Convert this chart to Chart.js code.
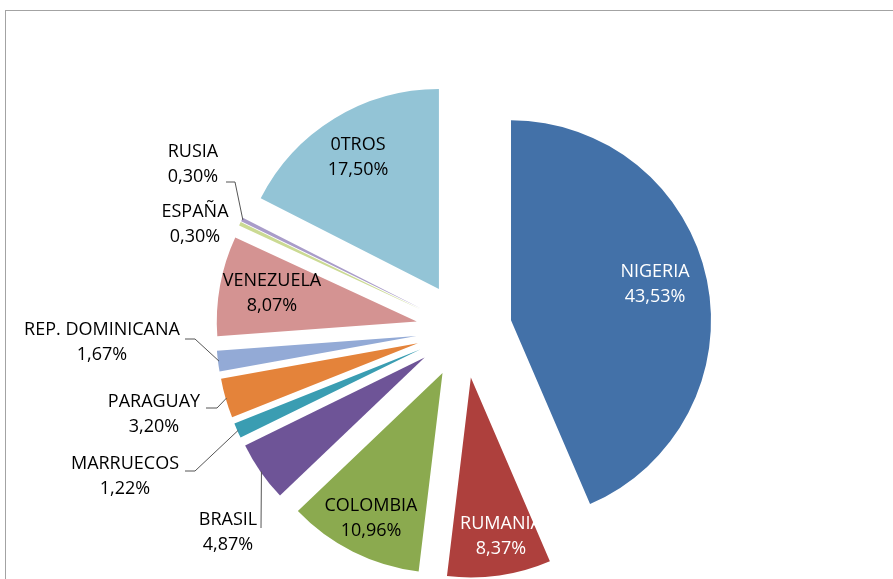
<!DOCTYPE html>
<html>
<head>
<meta charset="utf-8">
<script src="https://cdn.jsdelivr.net/npm/chart.js@4.4.0/dist/chart.umd.min.js"></script>
<style>
  html, body { margin: 0; padding: 0; background: #fff; overflow: hidden; }
  #frame { position: absolute; left: 5px; top: 10px; width: 1000px; height: 1000px; border: 1px solid #a3a3a3; }
  #pieChart { position: absolute; left: 0; top: 0; }
</style>
</head>
<body>
<div id="frame"></div>
<canvas id="pieChart" width="893" height="579"></canvas>
<script>
// Data
const countries = ['NIGERIA', 'RUMANIA', 'COLOMBIA', 'BRASIL', 'MARRUECOS', 'PARAGUAY',
    'REP. DOMINICANA', 'VENEZUELA', 'ESPAÑA', 'RUSIA', '0TROS'];
const shares = [43.53, 8.37, 10.96, 4.87, 1.22, 3.20, 1.67, 8.07, 0.30, 0.30, 17.50];
const shareLabels = ['43,53%', '8,37%', '10,96%', '4,87%', '1,22%', '3,20%',
    '1,67%', '8,07%', '0,30%', '0,30%', '17,50%'];
const colors = ['#4371A8', '#AE403D', '#8BAA4F', '#6E5497', '#3A9DB2', '#E4833A',
    '#93AAD6', '#D49392', '#CBDA93', '#A99CC9', '#93C4D6'];

const R = 200;      // pie radius
const SHIFT = 48;   // explosion distance of every slice

// label placement (text centre, text colour, optional leader start + elbow)
const labelLayout = [
    { x: 655, y: 272, color: '#fff' },
    { x: 501, y: 524, color: '#fff' },
    { x: 371, y: 506, color: '#000' },
    { x: 228, y: 520, color: '#000', lead: [261, 528], elbow: [261, 528] },
    { x: 125, y: 464, color: '#000', lead: [185, 471], elbow: [195, 471] },
    { x: 154, y: 402, color: '#000', lead: [206, 408], elbow: [217, 408] },
    { x: 102, y: 330, color: '#000', lead: [185, 339], elbow: [195, 339] },
    { x: 272, y: 281, color: '#000' },
    { x: 195, y: 212, color: '#000' },
    { x: 193, y: 152, color: '#000', lead: [226, 182], elbow: [235, 182] },
    { x: 358, y: 145, color: '#000' }
];

// explode every slice by the same distance along its mid angle
const evenExplode = {
    id: 'evenExplode',
    afterDatasetUpdate(chart, args) {
        args.meta.data.forEach(arc => {
            const mid = (arc.startAngle + arc.endAngle) / 2;
            arc.x += Math.cos(mid) * SHIFT;
            arc.y += Math.sin(mid) * SHIFT;
        });
    }
};

const sliceLabels = {
    id: 'sliceLabels',
    afterDraw(chart) {
        const ctx = chart.ctx;
        const arcs = chart.getDatasetMeta(0).data;
        ctx.save();
        ctx.font = '18px "Open Sans"';
        ctx.textAlign = 'center';
        ctx.textBaseline = 'middle';
        arcs.forEach((arc, i) => {
            const l = labelLayout[i];
            if (l.lead) {
                const mid = (arc.startAngle + arc.endAngle) / 2;
                const ex = arc.x + Math.cos(mid) * (arc.outerRadius - 1);
                const ey = arc.y + Math.sin(mid) * (arc.outerRadius - 1);
                ctx.strokeStyle = '#555';
                ctx.lineWidth = 1;
                ctx.beginPath();
                ctx.moveTo(l.lead[0], l.lead[1]);
                ctx.lineTo(l.elbow[0], l.elbow[1]);
                ctx.lineTo(ex, ey);
                ctx.stroke();
            }
            ctx.fillStyle = l.color;
            ctx.fillText(countries[i], l.x, l.y);
            ctx.fillText(shareLabels[i], l.x, l.y + 25);
        });
        ctx.restore();
    }
};

const pieCtx = document.getElementById('pieChart').getContext('2d');
new Chart(pieCtx, {
    type: 'pie',
    data: {
        labels: countries,
        datasets: [{
            data: shares,
            backgroundColor: colors,
            borderWidth: 0,
        }],
    },
    options: {
        responsive: false,
        animation: false,
        radius: R,
        layout: { padding: { left: 35, right: 0, top: 81, bottom: 0 } },
        plugins: {
            legend: { display: false },
            tooltip: { enabled: false },
        },
    },
    plugins: [evenExplode, sliceLabels],
});
</script>
</body>
</html>
